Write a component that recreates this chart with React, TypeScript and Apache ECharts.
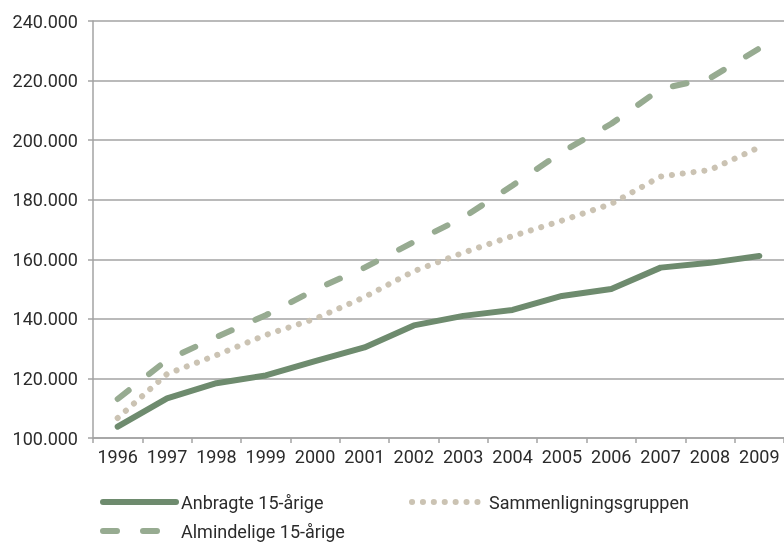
import React, { useEffect, useRef } from "react";
import * as echarts from "echarts";

const years = ["1996", "1997", "1998", "1999", "2000", "2001", "2002", "2003", "2004", "2005", "2006", "2007", "2008", "2009"];
const anbragte = [103800, 113300, 118400, 121000, 125800, 130400, 137800, 141000, 143000, 147700, 150000, 157200, 158800, 161100];
const sammenligning = [106700, 121500, 127800, 134600, 140000, 147300, 156000, 162200, 167800, 173000, 178600, 187800, 190000, 197600];
const almindelige = [113100, 126200, 133900, 141200, 149800, 157200, 165800, 174000, 184800, 196000, 205500, 217200, 220800, 230800];

const names = ["Anbragte 15-årige", "Sammenligningsgruppen", "Almindelige 15-årige"];
const FONT = "Roboto";
const TXT = "#2b2b2b";
const GRID = "#a3a3a3";
const C_SOLID = "#6e8b6e";
const C_DASH = "#97ab91";
const C_DOT = "#cbc3b3";
const DASH = [14, 26];
const DOT = [0.1, 10.8];

export default function App() {
  const ref = useRef<HTMLDivElement>(null);
  useEffect(() => {
    if (!ref.current) return;
    const chart = echarts.init(ref.current, null, { renderer: "svg" });
    const legendText = { color: TXT, fontSize: 18, fontFamily: FONT };
    const hideSym = { opacity: 0 };
    chart.setOption({
      animation: false,
      grid: { left: 93, top: 21, width: 694, height: 417 },
      legend: [
        {
          data: [names[0]], left: 95, top: 488, itemWidth: 73, itemHeight: 12, textStyle: legendText, selectedMode: false,
          itemStyle: hideSym, lineStyle: { width: 6, color: C_SOLID, type: "solid", cap: "round" },
        },
        {
          data: [names[1]], left: 404, top: 488, itemWidth: 72, itemHeight: 12, textStyle: legendText, selectedMode: false,
          itemStyle: hideSym, lineStyle: { width: 6, color: C_DOT, type: DOT, cap: "round" },
        },
        {
          data: [names[2]], left: 95, top: 517, itemWidth: 73, itemHeight: 12, textStyle: legendText, selectedMode: false,
          itemStyle: hideSym, lineStyle: { width: 6, color: C_DASH, type: DASH, cap: "round" },
        },
      ],
      xAxis: {
        type: "category",
        data: years,
        boundaryGap: true,
        axisLine: { lineStyle: { color: GRID, width: 1.5 } },
        axisTick: { show: true, length: 5, lineStyle: { color: GRID, width: 1.5 } },
        axisLabel: { color: TXT, fontSize: 18, fontFamily: FONT, margin: 9, interval: 0, hideOverlap: false },
      },
      yAxis: {
        type: "value",
        min: 100000,
        max: 240000,
        interval: 20000,
        axisLine: { show: true, lineStyle: { color: GRID, width: 1.5 } },
        axisTick: { show: true, length: 5, lineStyle: { color: GRID, width: 1.5 } },
        splitLine: { lineStyle: { color: GRID, width: 1.5 } },
        axisLabel: {
          color: TXT,
          fontSize: 18,
          fontFamily: FONT,
          margin: 15,
          formatter: (v: number) => String(Math.round(v / 1000)) + ".000",
        },
      },
      series: [
        {
          name: names[2],
          type: "line",
          data: almindelige,
          symbol: "none",
          z: 2,
          lineStyle: { color: C_DASH, width: 6, type: DASH, cap: "round" },
          itemStyle: { color: C_DASH },
        },
        {
          name: names[1],
          type: "line",
          data: sammenligning,
          symbol: "none",
          z: 3,
          lineStyle: { color: C_DOT, width: 6, type: DOT, cap: "round" },
          itemStyle: { color: C_DOT },
        },
        {
          name: names[0],
          type: "line",
          data: anbragte,
          symbol: "none",
          z: 4,
          lineStyle: { color: C_SOLID, width: 6, cap: "round", join: "round" },
          itemStyle: { color: C_SOLID },
        },
      ],
    });
    return () => chart.dispose();
  }, []);
  return <div ref={ref} style={{ position: "fixed", left: 0, top: 0, width: 784, height: 543 }} />;
}
